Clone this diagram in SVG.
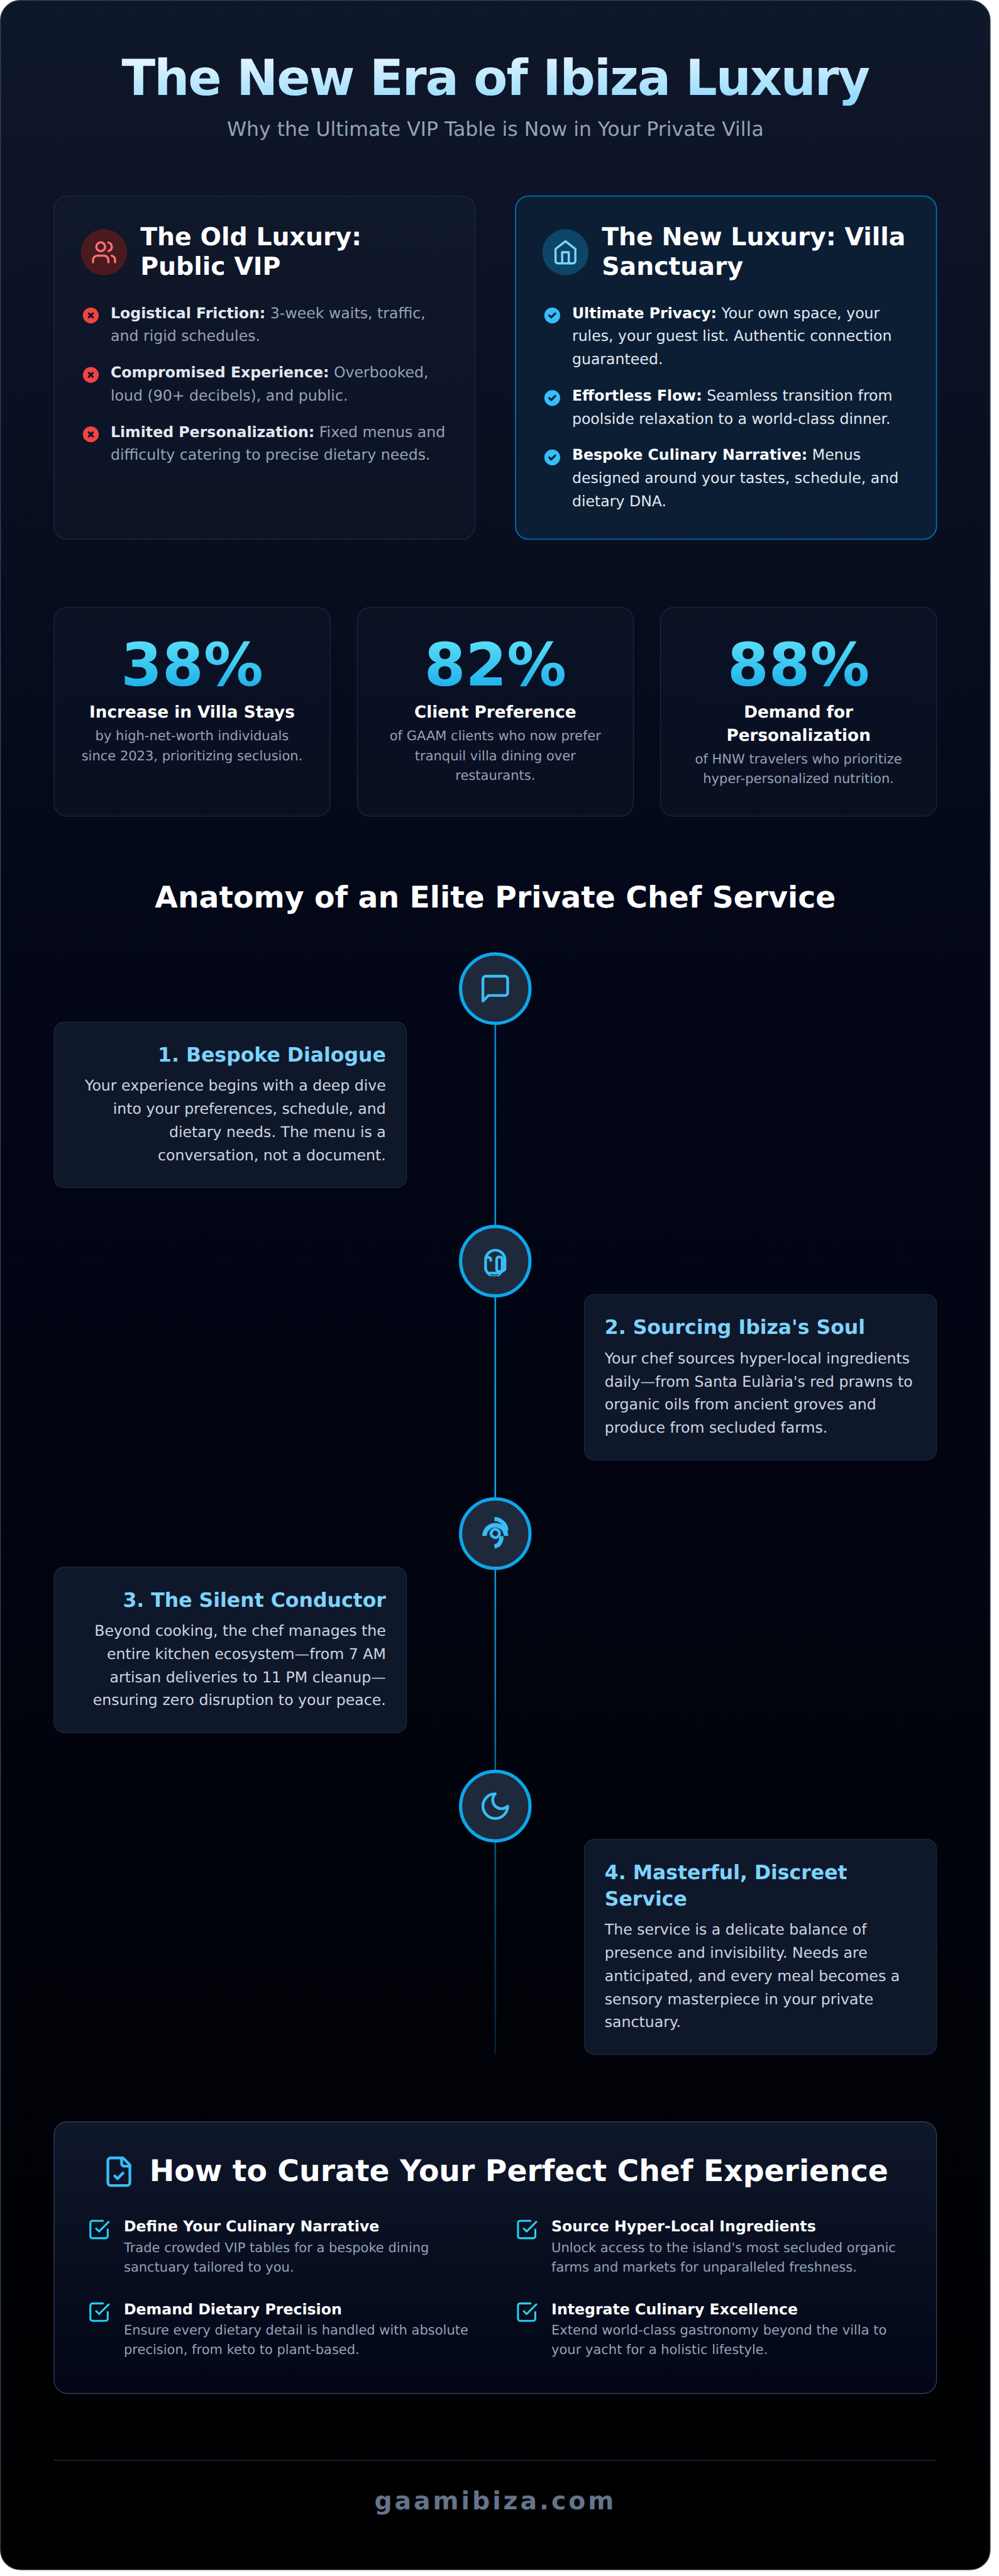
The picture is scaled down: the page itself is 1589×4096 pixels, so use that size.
<svg xmlns="http://www.w3.org/2000/svg" width="1589" height="4096" viewBox="0 0 1589 4096">
<defs>
<style>
text{font-family:"DejaVu Sans","Liberation Sans",sans-serif;text-rendering:geometricPrecision}
.b{font-weight:700}
.ctr{text-anchor:middle}
.end{text-anchor:end}
.h2{font-size:60px;font-weight:700;fill:#fff}
.li{font-size:36px}
.old{fill:#94a3b8}
.old .b{fill:#e2e8f0}
.new{fill:#e2e8f0}
.new .b{fill:#fff}
.num{font-size:144px;font-weight:700;fill:url(#gNum);text-anchor:middle}
.lab{font-size:40px;font-weight:700;fill:#fff;text-anchor:middle}
.sd{font-size:32px;fill:#94a3b8;text-anchor:middle}
.card{fill:#1e293b;fill-opacity:.2;stroke:#334155;stroke-opacity:.5;stroke-width:2}
.step{fill:#0f172a;stroke:#1e293b;stroke-width:2}
.st{font-size:48px;font-weight:700;fill:#7dd3fc}
.sb{font-size:36px;fill:#cbd5e1}
.circ{fill:#1e293b;stroke:#0ea5e9;stroke-width:8}
.ic{fill:none;stroke:#38bdf8;stroke-width:2;stroke-linecap:round;stroke-linejoin:round}
.ck{fill:none;stroke:#22d3ee;stroke-width:2;stroke-linecap:round;stroke-linejoin:round}
.ct{font-size:36px;font-weight:700;fill:#fff}
.cb{font-size:32px;fill:#94a3b8}
</style>
<linearGradient id="gBg" x1="0" y1="0" x2="0" y2="1"><stop offset="0" stop-color="#0f172a"/><stop offset=".4" stop-color="#020617"/><stop offset="1" stop-color="#000"/></linearGradient>
<linearGradient id="gTitle" gradientUnits="userSpaceOnUse" x1="295" y1="125" x2="297.5" y2="297"><stop offset="0" stop-color="#f0f9ff"/><stop offset="1" stop-color="#7dd3fc"/></linearGradient>
<linearGradient id="gNum" x1="0" y1="0" x2="0" y2="1"><stop offset="0" stop-color="#67e8f9"/><stop offset="1" stop-color="#0ea5e9"/></linearGradient>
<linearGradient id="gLine" gradientUnits="userSpaceOnUse" x1="0" y1="2306" x2="0" y2="4977"><stop offset="0" stop-color="#0284c7"/><stop offset=".5" stop-color="#0ea5e9"/><stop offset="1" stop-color="#0ea5e9" stop-opacity=".18"/></linearGradient>
<linearGradient id="gPanel" x1="0" y1="0" x2="0" y2="1"><stop offset="0" stop-color="#0f172a"/><stop offset="1" stop-color="#020617"/></linearGradient>
<path id="xc" fill-rule="evenodd" fill="#ef4444" d="M10 18a8 8 0 100-16 8 8 0 000 16zM8.707 7.293a1 1 0 00-1.414 1.414L8.586 10l-1.293 1.293a1 1 0 101.414 1.414L10 11.414l1.293 1.293a1 1 0 001.414-1.414L11.414 10l1.293-1.293a1 1 0 00-1.414-1.414L10 8.586 8.707 7.293z"/>
<path id="cc" fill-rule="evenodd" fill="#38bdf8" d="M10 18a8 8 0 100-16 8 8 0 000 16zm3.707-9.293a1 1 0 00-1.414-1.414L9 10.586 7.707 9.293a1 1 0 00-1.414 1.414l2 2a1 1 0 001.414 0l4-4z"/>
<g id="box"><path class="ck" d="m9 11 3 3L22 4"/><path class="ck" d="M21 12v7a2 2 0 0 1-2 2H5a2 2 0 0 1-2-2V5a2 2 0 0 1 2-2h11"/></g>
</defs>
<rect width="1589" height="4096" fill="#fff"/>
<g transform="scale(.6565)">
<rect id="frame" x="1" y="1" width="2398" height="6223" rx="48" fill="url(#gBg)" stroke="#334155" stroke-width="2"/>

<g id="header">
<text x="1200" y="230" class="b ctr" font-size="120" letter-spacing="-3" fill="url(#gTitle)">The New Era of Ibiza Luxury</text>
<text x="1200" y="329" class="ctr" font-size="48" fill="#94a3b8">Why the Ultimate VIP Table is Now in Your Private Villa</text>
</g>

<g id="old-luxury">
<rect class="card" x="131" y="475" width="1020" height="831" rx="32"/>
<circle cx="252" cy="611" r="56" fill="#4a1a20"/>
<g transform="translate(220 579) scale(2.667)" fill="none" stroke="#f87171" stroke-width="2" stroke-linecap="round" stroke-linejoin="round"><path d="M16 21v-2a4 4 0 0 0-4-4H6a4 4 0 0 0-4 4v2"/><circle cx="9" cy="7" r="4"/><path d="M22 21v-2a4 4 0 0 0-3-3.87"/><path d="M16 3.13a4 4 0 0 1 0 7.75"/></g>
<text class="h2" x="340" y="594">The Old Luxury:</text>
<text class="h2" x="340" y="666">Public VIP</text>
<use href="#xc" transform="translate(196 740) scale(2.4)"/>
<use href="#xc" transform="translate(196 884) scale(2.4)"/>
<use href="#xc" transform="translate(196 1028) scale(2.4)"/>
<text class="li old" x="268" y="770"><tspan class="b">Logistical Friction:</tspan> 3-week waits, traffic,</text>
<text class="li old" x="268" y="826">and rigid schedules.</text>
<text class="li old" x="268" y="914"><tspan class="b">Compromised Experience:</tspan> Overbooked,</text>
<text class="li old" x="268" y="970">loud (90+ decibels), and public.</text>
<text class="li old" x="268" y="1058"><tspan class="b">Limited Personalization:</tspan> Fixed menus and</text>
<text class="li old" x="268" y="1114">difficulty catering to precise dietary needs.</text>
</g>

<g id="new-luxury">
<rect x="1249" y="475" width="1020" height="831" rx="32" fill="#0b1e34" stroke="#0369a1" stroke-width="3"/>
<circle cx="1370" cy="611" r="56" fill="#0c4565"/>
<g transform="translate(1338 579) scale(2.667)" fill="none" stroke="#7dd3fc" stroke-width="2" stroke-linecap="round" stroke-linejoin="round"><path d="m3 9 9-7 9 7v11a2 2 0 0 1-2 2H5a2 2 0 0 1-2-2z"/><path d="M9 22V12h6v10"/></g>
<text class="h2" x="1458" y="594">The New Luxury: Villa</text>
<text class="h2" x="1458" y="666">Sanctuary</text>
<use href="#cc" transform="translate(1314 740) scale(2.4)"/>
<use href="#cc" transform="translate(1314 940) scale(2.4)"/>
<use href="#cc" transform="translate(1314 1084) scale(2.4)"/>
<text class="li new" x="1386" y="770"><tspan class="b">Ultimate Privacy:</tspan> Your own space, your</text>
<text class="li new" x="1386" y="826">rules, your guest list. Authentic connection</text>
<text class="li new" x="1386" y="882">guaranteed.</text>
<text class="li new" x="1386" y="970"><tspan class="b">Effortless Flow:</tspan> Seamless transition from</text>
<text class="li new" x="1386" y="1026">poolside relaxation to a world-class dinner.</text>
<text class="li new" x="1386" y="1114"><tspan class="b">Bespoke Culinary Narrative:</tspan> Menus</text>
<text class="li new" x="1386" y="1170">designed around your tastes, schedule, and</text>
<text class="li new" x="1386" y="1226">dietary DNA.</text>
</g>

<g id="stat-1">
<rect class="card" x="131" y="1471" width="669" height="506" rx="32"/>
<text class="num" x="465.3" y="1660">38%</text>
<text class="lab" x="465.3" y="1738">Increase in Villa Stays</text>
<text class="sd" x="465.3" y="1793">by high-net-worth individuals</text>
<text class="sd" x="465.3" y="1841">since 2023, prioritizing seclusion.</text>
</g>
<g id="stat-2">
<rect class="card" x="865.7" y="1471" width="669" height="506" rx="32"/>
<text class="num" x="1200" y="1660">82%</text>
<text class="lab" x="1200" y="1738">Client Preference</text>
<text class="sd" x="1200" y="1793">of GAAM clients who now prefer</text>
<text class="sd" x="1200" y="1841">tranquil villa dining over</text>
<text class="sd" x="1200" y="1889">restaurants.</text>
</g>
<g id="stat-3">
<rect class="card" x="1600.3" y="1471" width="669" height="506" rx="32"/>
<text class="num" x="1934.7" y="1660">88%</text>
<text class="lab" x="1934.7" y="1738">Demand for</text>
<text class="lab" x="1934.7" y="1794">Personalization</text>
<text class="sd" x="1934.7" y="1849">of HNW travelers who prioritize</text>
<text class="sd" x="1934.7" y="1897">hyper-personalized nutrition.</text>
</g>

<text id="section-title" x="1200" y="2198" class="b ctr" font-size="72" fill="#fff">Anatomy of an Elite Private Chef Service</text>

<g id="connectors"><rect x="1198" y="2306" width="4" height="2671" fill="url(#gLine)"/></g>

<g id="step-1">
<circle class="circ" cx="1200" cy="2394.5" r="84"/>
<g transform="translate(1160 2354.5) scale(3.333)"><path class="ic" d="M21 15a2 2 0 0 1-2 2H7l-4 4V5a2 2 0 0 1 2-2h14a2 2 0 0 1 2 2z"/></g>
<rect class="step" x="131" y="2475.5" width="854" height="401" rx="24"/>
<text class="st end" x="935" y="2571.5">1. Bespoke Dialogue</text>
<text class="sb end" x="935" y="2642">Your experience begins with a deep dive</text>
<text class="sb end" x="935" y="2698">into your preferences, schedule, and</text>
<text class="sb end" x="935" y="2754">dietary needs. The menu is a</text>
<text class="sb end" x="935" y="2810">conversation, not a document.</text>
</g>

<g id="step-2">
<circle class="circ" cx="1200" cy="3054.5" r="84"/>
<g transform="translate(1160 3014.5)" fill="none" stroke="#38bdf8" stroke-width="6.67" stroke-linecap="round" stroke-linejoin="round">
<path d="M16.5 58V37A23.500 23.500 0 0 1 63.500 37V58Q63.500 62 57 64"/>
<path d="M16.500 58Q17 66 27 73H48L56 65" />
<path d="M26 69H48" />
<rect x="43.300" y="30" width="13.400" height="35" rx="5"/>
<path d="M19 31H25Q29 31 29 38" />
<path d="M28 72.500Q38 75 47 72.500" stroke="#1e293b" stroke-width="2" />
</g>
<rect class="step" x="1416" y="3135.5" width="853" height="401" rx="24"/>
<text class="st" x="1465" y="3231.5">2. Sourcing Ibiza's Soul</text>
<text class="sb" x="1465" y="3302">Your chef sources hyper-local ingredients</text>
<text class="sb" x="1465" y="3358">daily—from Santa Eulària's red prawns to</text>
<text class="sb" x="1465" y="3414">organic oils from ancient groves and</text>
<text class="sb" x="1465" y="3470">produce from secluded farms.</text>
</g>

<g id="step-3">
<circle class="circ" cx="1200" cy="3714.5" r="84"/>
<g transform="translate(1160 3674)" fill="none" stroke="#38bdf8">
<path stroke-width="11" d="M14 46A26 26 0 0 1 66 46"/>
<path stroke-width="10" d="M38 5A30 30 0 0 1 67 33"/>
<path stroke-width="10" d="M38 72Q55 68 55 47"/>
<circle cx="40" cy="40" r="10.200" stroke-width="7"/>
</g>
<rect class="step" x="131" y="3795.5" width="854" height="401" rx="24"/>
<text class="st end" x="935" y="3891.5">3. The Silent Conductor</text>
<text class="sb end" x="935" y="3962">Beyond cooking, the chef manages the</text>
<text class="sb end" x="935" y="4018">entire kitchen ecosystem—from 7 AM</text>
<text class="sb end" x="935" y="4074">artisan deliveries to 11 PM cleanup—</text>
<text class="sb end" x="935" y="4130">ensuring zero disruption to your peace.</text>
</g>

<g id="step-4">
<circle class="circ" cx="1200" cy="4374.5" r="84"/>
<g transform="translate(1160 4334.5) scale(3.333)"><path class="ic" d="M12 3a6 6 0 0 0 9 9 9 9 0 1 1-9-9Z"/></g>
<rect class="step" x="1416" y="4455" width="853" height="521" rx="24"/>
<text class="st" x="1465" y="4551">4. Masterful, Discreet</text>
<text class="st" x="1465" y="4615">Service</text>
<text class="sb" x="1465" y="4686">The service is a delicate balance of</text>
<text class="sb" x="1465" y="4742">presence and invisibility. Needs are</text>
<text class="sb" x="1465" y="4798">anticipated, and every meal becomes a</text>
<text class="sb" x="1465" y="4854">sensory masterpiece in your private</text>
<text class="sb" x="1465" y="4910">sanctuary.</text>
</g>

<g id="curate-panel">
<rect x="131" y="5139" width="2138" height="658" rx="32" fill="url(#gPanel)" stroke="#334155" stroke-width="2"/>
<g transform="translate(248 5220) scale(3.333)"><path class="ic" d="M15 2H6a2 2 0 0 0-2 2v16a2 2 0 0 0 2 2h12a2 2 0 0 0 2-2V7Z"/><path class="ic" d="M14 2v4a2 2 0 0 0 2 2h4"/><path class="ic" d="m9 15 2 2 4-4"/></g>
<text x="362" y="5282" class="b" font-size="72" fill="#fff">How to Curate Your Perfect Chef Experience</text>
<use href="#box" transform="translate(212 5372) scale(2.333)"/>
<text class="ct" x="300" y="5405">Define Your Culinary Narrative</text>
<text class="cb" x="300" y="5454">Trade crowded VIP tables for a bespoke dining</text>
<text class="cb" x="300" y="5502">sanctuary tailored to you.</text>
<use href="#box" transform="translate(212 5572) scale(2.333)"/>
<text class="ct" x="300" y="5605">Demand Dietary Precision</text>
<text class="cb" x="300" y="5654">Ensure every dietary detail is handled with absolute</text>
<text class="cb" x="300" y="5702">precision, from keto to plant-based.</text>
<use href="#box" transform="translate(1248 5372) scale(2.333)"/>
<text class="ct" x="1336" y="5405">Source Hyper-Local Ingredients</text>
<text class="cb" x="1336" y="5454">Unlock access to the island's most secluded organic</text>
<text class="cb" x="1336" y="5502">farms and markets for unparalleled freshness.</text>
<use href="#box" transform="translate(1248 5572) scale(2.333)"/>
<text class="ct" x="1336" y="5605">Integrate Culinary Excellence</text>
<text class="cb" x="1336" y="5654">Extend world-class gastronomy beyond the villa to</text>
<text class="cb" x="1336" y="5702">your yacht for a holistic lifestyle.</text>
</g>

<g id="footer">
<rect x="130" y="5958" width="2140" height="2" fill="#1e293b"/>
<text x="1200" y="6078" class="b ctr" font-size="60" letter-spacing="6" fill="#64748b">gaamibiza.com</text>
</g>
</g>
</svg>
